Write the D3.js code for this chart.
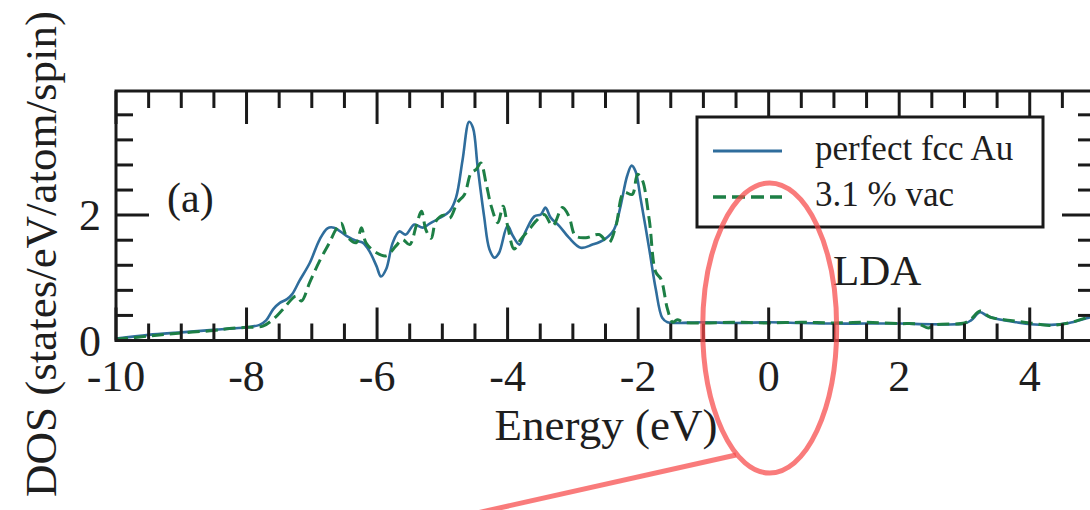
<!DOCTYPE html>
<html>
<head>
<meta charset="utf-8">
<script src="https://cdn.jsdelivr.net/npm/d3@7"></script>
<style>
    body { margin: 0; background: #fff; }
    svg text { font-family: "Liberation Serif", "DejaVu Serif", serif; fill: #1e1e1e; }
</style>
</head>
<body>
<div id="dos"></div>
<script>

// DOS of perfect fcc Au (LDA)
let auEnergy = [-10, -9.5, -9.0, -8.5, -8.0, -7.8, -7.7, -7.59, -7.49, -7.38, -7.3, -7.19, -7.03, -6.88, -6.76, -6.66,
    -6.47, -6.32, -6.22, -6.12, -6.01, -5.94, -5.86, -5.76, -5.66, -5.56, -5.43, -5.3, -5.2, -5.05, -4.89, -4.79,
    -4.69, -4.59, -4.53, -4.46, -4.36, -4.28, -4.20, -4.13, -4.00, -3.92, -3.82, -3.72, -3.59, -3.49, -3.42, -3.34,
    -3.21, -3.06, -2.88, -2.70, -2.52, -2.37, -2.27, -2.17, -2.10, -2.04, -1.96, -1.83, -1.73, -1.63, -1.55, -1.4,
    -1.0, -0.5, 0, 0.5, 1.0, 1.5, 2.0, 2.5, 3.0, 3.1, 3.24, 3.35, 3.52, 3.8, 4.02, 4.33, 4.6, 4.89, 5.0];
let auDos = [0.03, 0.09, 0.13, 0.17, 0.21, 0.25, 0.32, 0.50, 0.60, 0.66, 0.74, 0.95, 1.24, 1.61, 1.79, 1.80,
    1.67, 1.59, 1.56, 1.43, 1.19, 1.02, 1.14, 1.56, 1.74, 1.69, 1.85, 1.80, 1.86, 1.95, 2.06, 2.28,
    2.88, 3.49, 3.39, 2.78, 1.98, 1.46, 1.32, 1.40, 1.83, 1.67, 1.53, 1.75, 1.98, 2.01, 2.12, 1.96,
    1.83, 1.64, 1.48, 1.53, 1.61, 1.77, 2.14, 2.62, 2.79, 2.70, 2.25, 1.46, 0.82, 0.36, 0.29, 0.28,
    0.29, 0.28, 0.29, 0.28, 0.27, 0.27, 0.27, 0.26, 0.27, 0.32, 0.45, 0.39, 0.34, 0.29, 0.26, 0.25, 0.28, 0.36, 0.38];

// DOS with 3.1 % vacancies
let vacEnergy = [-10, -9.5, -9.0, -8.5, -8.26, -8.0, -7.75, -7.59, -7.44, -7.24, -7.16, -7.03, -6.88, -6.73, -6.63,
    -6.55, -6.47, -6.32, -6.24, -6.17, -6.01, -5.86, -5.71, -5.61, -5.50, -5.40, -5.32, -5.25, -5.17, -5.10, -4.98,
    -4.89, -4.77, -4.66, -4.56, -4.48, -4.41, -4.33, -4.25, -4.15, -4.07, -4.0, -3.90, -3.80, -3.67, -3.57, -3.44,
    -3.31, -3.16, -3.06, -2.96, -2.80, -2.60, -2.45, -2.34, -2.22, -2.09, -2.01, -1.94, -1.83, -1.73, -1.65, -1.55,
    -1.47, -1.4, -1.3, -1.0, -0.5, 0, 0.5, 1.0, 1.5, 2.0, 2.3, 2.45, 2.55, 3.0, 3.1, 3.24, 3.4, 3.7, 4.0, 4.3, 4.6, 4.89, 5.0];
let vacDos = [0.02, 0.07, 0.12, 0.16, 0.19, 0.21, 0.23, 0.34, 0.50, 0.71, 0.63, 0.93, 1.27, 1.56, 1.77,
    1.87, 1.67, 1.56, 1.80, 1.56, 1.40, 1.35, 1.51, 1.61, 1.53, 1.83, 2.06, 1.76, 1.63, 1.90, 2.00,
    1.95, 2.20, 2.33, 2.67, 2.73, 2.83, 2.51, 2.14, 1.88, 2.14, 1.83, 1.46, 1.61, 1.77, 1.90, 2.01,
    1.83, 2.12, 1.98, 1.67, 1.64, 1.69, 1.56, 1.83, 2.36, 2.33, 2.65, 2.57, 1.93, 1.09, 0.98, 0.50,
    0.29, 0.33, 0.29, 0.28, 0.29, 0.28, 0.29, 0.28, 0.29, 0.27, 0.26, 0.20, 0.25, 0.28, 0.34, 0.47, 0.37, 0.32, 0.28, 0.24, 0.28, 0.37, 0.39];

let xMajor = [-10, -8, -6, -4, -2, 0, 2, 4];
let yMajor = [0, 2];
let legendNames = ["perfect fcc Au", "3.1 % vac"];

let w = 1090, h = 510;
let fLeft = 116, fRight = 1095, fTop = 91, fBottom = 340.5;
let blue = "#2f6d9c", green = "#1d7f45", ink = "#1a1a1a";

let svg = d3.select("#dos").append("svg")
    .attr("width", w)
    .attr("height", h);

let x = d3.scaleLinear().domain([-10, 5]).range([fLeft, fRight]);
let y = d3.scaleLinear().domain([0, 3.98]).range([fBottom, fTop]);

// curves, clipped to the frame
svg.append("clipPath").attr("id", "frameClip")
    .append("rect")
    .attr("x", fLeft).attr("y", fTop)
    .attr("width", fRight - fLeft).attr("height", fBottom - fTop);

let line = d3.line()
    .x(d => x(d[0]))
    .y(d => y(d[1]))
    .curve(d3.curveCatmullRom.alpha(0.5));

let plot = svg.append("g").attr("clip-path", "url(#frameClip)");

plot.append("path")
    .datum(d3.zip(auEnergy, auDos))
    .attr("d", line)
    .attr("fill", "none")
    .attr("stroke", blue)
    .attr("stroke-width", 2.6);

plot.append("path")
    .datum(d3.zip(vacEnergy, vacDos))
    .attr("d", line)
    .attr("fill", "none")
    .attr("stroke", green)
    .attr("stroke-width", 3)
    .attr("stroke-dasharray", "12,6");

// axes on all four sides, ticks pointing in
let majorLen = 33, minorLen = 17;
let xMinor = d3.range(-10, 5.01, 0.5);
let yMinor = d3.range(0, 3.99, 0.4);

function ticksX(g, vals, len) {
    g.selectAll(null).data(vals).enter().append("line")
        .attr("x1", d => x(d)).attr("x2", d => x(d))
        .attr("y1", fBottom).attr("y2", fBottom - len);
    g.selectAll(null).data(vals).enter().append("line")
        .attr("x1", d => x(d)).attr("x2", d => x(d))
        .attr("y1", fTop).attr("y2", fTop + len);
}
function ticksY(g, vals, len) {
    g.selectAll(null).data(vals).enter().append("line")
        .attr("x1", fLeft).attr("x2", fLeft + len)
        .attr("y1", d => y(d)).attr("y2", d => y(d));
    g.selectAll(null).data(vals).enter().append("line")
        .attr("x1", fRight).attr("x2", fRight - len)
        .attr("y1", d => y(d)).attr("y2", d => y(d));
}

let tickG = svg.append("g")
    .attr("stroke", ink)
    .attr("stroke-width", 3);
ticksX(tickG, xMinor.filter(d => !xMajor.includes(d)), minorLen);
ticksX(tickG, xMajor, majorLen);
ticksY(tickG, yMinor.filter(d => Math.abs(d - 2) > 0.01), minorLen);
ticksY(tickG, yMajor, majorLen);

svg.append("rect")
    .attr("x", fLeft).attr("y", fTop)
    .attr("width", fRight - fLeft).attr("height", fBottom - fTop)
    .attr("fill", "none")
    .attr("stroke", ink)
    .attr("stroke-width", 3);

// tick labels
svg.append("g").selectAll("text")
    .data(xMajor)
    .enter().append("text")
    .attr("x", d => x(d))
    .attr("y", 391)
    .attr("text-anchor", "middle")
    .style("font-size", "44px")
    .text(d => d);

svg.append("g").selectAll("text")
    .data(yMajor)
    .enter().append("text")
    .attr("x", 101)
    .attr("y", d => y(d) + 15)
    .attr("text-anchor", "end")
    .style("font-size", "44px")
    .text(d => d);

// axis titles
svg.append("text")
    .attr("x", 606)
    .attr("y", 440)
    .attr("text-anchor", "middle")
    .style("font-size", "45px")
    .text("Energy (eV)");

svg.append("text")
    .attr("transform", "translate(56,254) rotate(-90)")
    .attr("text-anchor", "middle")
    .style("font-size", "45px")
    .text("DOS (states/eV/atom/spin)");

svg.append("text")
    .attr("x", 167).attr("y", 212)
    .style("font-size", "42px")
    .text("(a)");

svg.append("text")
    .attr("x", 833).attr("y", 285)
    .style("font-size", "43px")
    .text("LDA");

// legend
let legend = svg.append("g");
legend.append("rect")
    .attr("x", 697).attr("y", 117)
    .attr("width", 346).attr("height", 110)
    .attr("fill", "#fff")
    .attr("stroke", ink)
    .attr("stroke-width", 3);

let legendRows = [{name: legendNames[0], color: blue, dash: null, ly: 151},
                  {name: legendNames[1], color: green, dash: "13,6", ly: 197}];
legendRows.forEach(r => {
    legend.append("line")
        .attr("x1", 713).attr("x2", 782)
        .attr("y1", r.ly).attr("y2", r.ly)
        .attr("stroke", r.color)
        .attr("stroke-width", r.dash ? 3.5 : 2.8)
        .attr("stroke-dasharray", r.dash);
    legend.append("text")
        .attr("x", 815).attr("y", r.ly + 9)
        .style("font-size", "35px")
        .text(r.name);
});

// red highlight around the Fermi level
let mark = svg.append("g")
    .attr("fill", "none")
    .attr("stroke", "rgba(246,72,72,0.72)")
    .attr("stroke-width", 5);
mark.append("ellipse")
    .attr("cx", x(0) + 1)
    .attr("cy", 328)
    .attr("rx", 67)
    .attr("ry", 145);
mark.append("line")
    .attr("x1", 736).attr("y1", 455)
    .attr("x2", 468).attr("y2", 515);

</script>
</body>
</html>
